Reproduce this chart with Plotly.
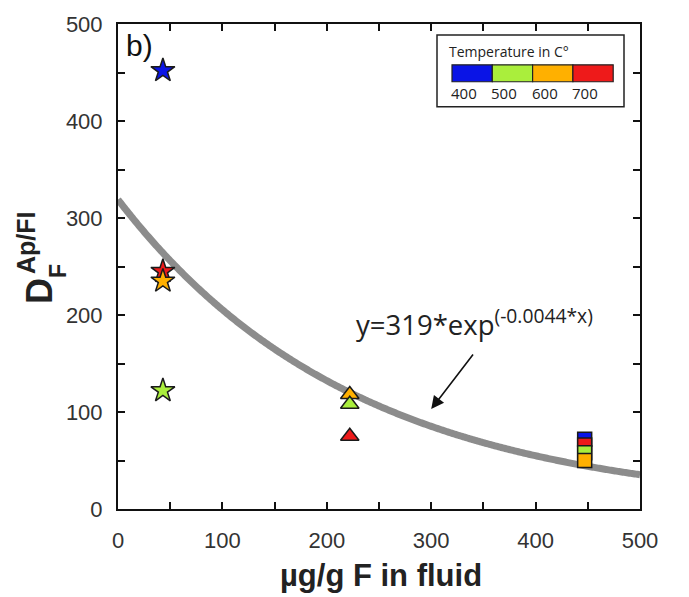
import numpy as np
import plotly.graph_objects as go

# Temperature colour scale (°C)
temps = [400, 500, 600, 700]
temp_colors = ["#0a14e6", "#aaee3c", "#ffb000", "#ee1a1a"]
color_of = dict(zip(temps, temp_colors))

# Stars: low-F fluid
star_x = [43, 43, 43, 43]
star_y = [452, 245, 235, 122]
star_t = [400, 700, 600, 500]

# Triangles: intermediate-F fluid
tri_x = [222, 222, 222]
tri_y = [118, 108, 75]
tri_t = [600, 500, 700]

# Squares: high-F fluid
sq_x = [447, 447, 447, 447]
sq_y = [72, 66, 58, 50]
sq_t = [400, 700, 500, 600]

# Exponential fit y = a*exp(b*x)
fit_a = 319
fit_b = -0.0044

W, H = 689, 597
L, R, T, B = 118, 640, 22, 509


def px(x):
    return (x - L) / (R - L)


def py(y):
    return (B - y) / (B - T)


fig = go.Figure()

xf = np.linspace(0, 500, 400)
fig.add_trace(go.Scatter(x=xf, y=fit_a * np.exp(fit_b * xf), mode="lines",
                         line=dict(color="#8c8c8c", width=7, simplify=False),
                         hoverinfo="skip"))


def add_points(xs, ys, ts, symbol, size):
    for x, y, t in zip(xs, ys, ts):
        fig.add_trace(go.Scatter(
            x=[x], y=[y], mode="markers",
            marker=dict(symbol=symbol, size=size, color=color_of[t],
                        line=dict(color="#1a1a1a", width=1.5))))


add_points(star_x, star_y, star_t, "star", 18)
add_points(tri_x, tri_y, tri_t, "triangle-up", 16)
add_points(sq_x, sq_y, sq_t, "square", 14)

axis_common = dict(
    showline=True, linecolor="#111", linewidth=2, mirror="ticks",
    ticks="inside", ticklen=7, tickwidth=1.5, tickcolor="#111",
    showgrid=False, zeroline=False,
    tickfont=dict(family="Liberation Sans, Arial", size=22, color="#333"),
    minor=dict(ticks="inside", ticklen=7, tickwidth=1.5, tickcolor="#111",
               dtick=50, showgrid=False),
)

fig.update_layout(
    width=W, height=H,
    margin=dict(l=L, r=W - R, t=T, b=H - B),
    plot_bgcolor="white", paper_bgcolor="white",
    showlegend=False,
    xaxis=dict(range=[0, 500], dtick=100, **axis_common),
    yaxis=dict(range=[0, 500], dtick=100, **axis_common),
)
fig.update_xaxes(ticklabelstandoff=11)
fig.update_yaxes(ticklabelstandoff=9)

shapes = []
annotations = []


def label(xp, yp, text, size, family="Liberation Sans, Arial", angle=0,
          xanchor="center", color="#222"):
    annotations.append(dict(xref="paper", yref="paper", x=px(xp), y=py(yp),
                            xanchor=xanchor, yanchor="middle", text=text,
                            textangle=angle, showarrow=False,
                            font=dict(family=family, size=size, color=color)))


# x-axis title
label(381, 576, "<b>µg/g F in fluid</b>", 31)

# y-axis title: D with stacked super/subscript
label(40, 290, "<b>D</b>", 36, angle=-90)
label(26, 242, "<b>Ap/FI</b>", 25, angle=-90)
label(58, 270, "<b>F</b>", 23, angle=-90)

# panel label
label(124, 44, "b)", 30, xanchor="left", color="#111")

# fit equation with arrow
annotations.append(dict(x=300, y=103, ax=43, ay=-56,
                        xref="x", yref="y", axref="pixel", ayref="pixel",
                        text="", showarrow=True, arrowhead=2, arrowsize=1.6,
                        arrowwidth=1.6, arrowcolor="#111"))
label(354, 322, "y=319*exp<sup>(-0.0044*x)</sup>", 27.5,
      family="Open Sans, Liberation Sans", xanchor="left")

# temperature legend box
bx0, bx1, by0, by1 = 437, 624, 33, 105
shapes.append(dict(type="rect", xref="paper", yref="paper",
                   x0=px(bx0), x1=px(bx1), y0=py(by1), y1=py(by0),
                   line=dict(color="#222", width=1.5), fillcolor="white", layer="above"))
label(447, 50, "Temperature in C°", 14, family="Open Sans, Liberation Sans",
      xanchor="left")
seg_x0, seg_w = 452, 40.3
for i, (t, c) in enumerate(zip(temps, temp_colors)):
    x0 = seg_x0 + i * seg_w
    shapes.append(dict(type="rect", xref="paper", yref="paper",
                       x0=px(x0), x1=px(x0 + seg_w), y0=py(80), y1=py(63),
                       line=dict(color="#222", width=1.2), fillcolor=c, layer="above"))
    label(x0 + 12, 91, str(t), 15, family="Open Sans, Liberation Sans")

fig.update_layout(shapes=shapes, annotations=annotations)
fig.write_html("out.html")
